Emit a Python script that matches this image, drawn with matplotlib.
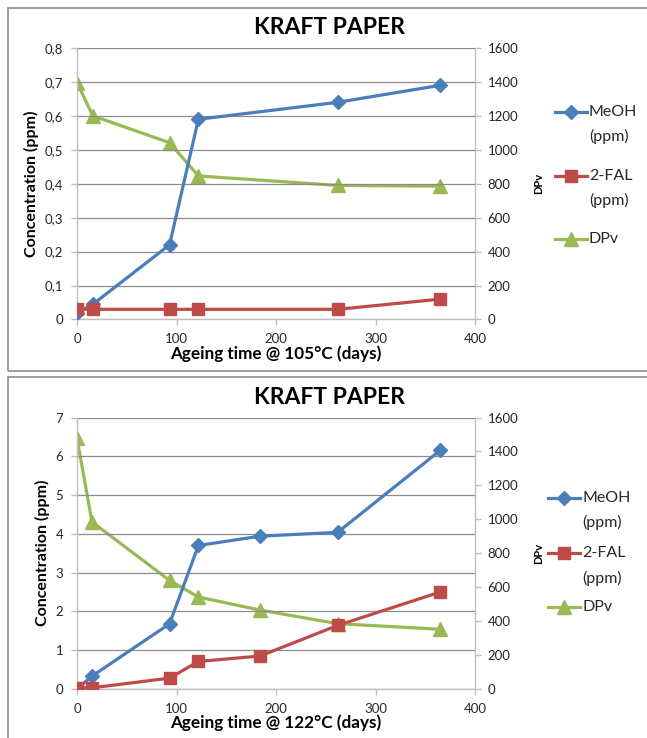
import matplotlib
matplotlib.use("Agg")
import matplotlib.pyplot as plt
from matplotlib.lines import Line2D
from matplotlib.patches import Rectangle
from matplotlib.ticker import FuncFormatter

plt.rcParams["font.family"] = ["Lato", "DejaVu Sans"]

# ageing at 105 °C
days_105 = [0, 16, 93, 122, 262, 365]
meoh_105 = [0.02, 0.045, 0.22, 0.59, 0.64, 0.69]
fal_105 = [0.03, 0.03, 0.03, 0.03, 0.03, 0.06]
dpv_105 = [1395, 1200, 1042, 846, 790, 786]

# ageing at 122 °C
days_122 = [0, 15, 93, 122, 184, 262, 365]
meoh_122 = [0.0, 0.33, 1.68, 3.70, 3.94, 4.04, 6.15]
fal_122 = [0.03, 0.03, 0.28, 0.71, 0.85, 1.64, 2.50]
dpv_122 = [1478, 985, 640, 542, 465, 385, 352]

series_names = ["MeOH", "2-FAL", "DPv"]
series_units = ["(ppm)", "(ppm)", ""]

panels = [
    ("105", days_105, meoh_105, fal_105, dpv_105, 0.8, 0.1),
    ("122", days_122, meoh_122, fal_122, dpv_122, 7, 1),
]

BLUE = "#4A7EBB"
RED = "#BE4B48"
GREEN = "#98B954"
GRID = "#8C8C8C"
SPINE = "#BFBFBF"
TXT = "#262626"

W, H = 647, 738
fig = plt.figure(figsize=(W / 100, H / 100), dpi=100)


def fx(px):
    return px / W


def fy(py):
    return 1 - py / H


# chart frames
fig.patches.append(Rectangle((fx(8), fy(371)), fx(700), 363 / H, transform=fig.transFigure,
                             fill=False, edgecolor="#8C8C8C", linewidth=1.2))
fig.patches.append(Rectangle((fx(8), fy(760)), fx(700), 383 / H, transform=fig.transFigure,
                             fill=False, edgecolor="#8C8C8C", linewidth=1.2))

tops = [48, 417.5]
title_y = [28, 397]
# legend layout (pixel positions): handle x-start, first-line y of each entry
leg_x = [555, 548]
leg_rows = [[111.5, 175.5, 239], [497.5, 553, 607]]

styles = [dict(color=BLUE, marker="D", markersize=7.5),
          dict(color=RED, marker="s", markersize=9),
          dict(color=GREEN, marker="^", markersize=9.5)]

for (temp, days, meoh, fal, dpv, ymax, ystep), top, ty, lx, rows in zip(
        panels, tops, title_y, leg_x, leg_rows):
    ax = fig.add_axes([fx(77), fy(top + 271.5), fx(398), 271.5 / H])
    ax2 = ax.twinx()

    ax.set_xlim(0, 400)
    ax.set_ylim(0, ymax)
    ax2.set_ylim(0, 1600)
    ax.set_xticks([0, 100, 200, 300, 400])
    n = int(round(ymax / ystep))
    ax.set_yticks([i * ystep for i in range(n + 1)])
    ax2.set_yticks(range(0, 1601, 200))
    if ystep < 1:
        ax.yaxis.set_major_formatter(FuncFormatter(
            lambda v, p: "0" if v == 0 else f"{v:.1f}".replace(".", ",")))

    ax.grid(axis="y", color=GRID, linewidth=0.9)
    ax.set_axisbelow(True)
    for a in (ax, ax2):
        a.spines["top"].set_visible(False)
        for s in ("left", "right", "bottom"):
            a.spines[s].set_color(SPINE)
            a.spines[s].set_linewidth(1.0)
        a.tick_params(colors=SPINE, labelcolor=TXT, labelsize=9.5, length=4, width=1)
    ax.spines["right"].set_visible(False)
    ax2.spines["left"].set_visible(False)
    ax2.spines["bottom"].set_visible(False)
    ax.tick_params(axis="y", pad=6)
    ax.tick_params(axis="x", pad=6)
    ax2.tick_params(axis="y", pad=5)

    ax.plot(days, meoh, linewidth=2.3, zorder=4, **styles[0])
    ax.plot(days, fal, linewidth=2.3, zorder=4, **styles[1])
    ax2.plot(days, dpv, linewidth=2.3, zorder=3, **styles[2])
    ax.set_zorder(ax2.get_zorder() + 1)
    ax.patch.set_visible(False)

    ax.set_ylabel("Concentration (ppm)", fontsize=11.5, fontweight="bold", color="black",
                  labelpad=4)
    ax.set_xlabel(f"Ageing time @ {temp}°C (days)", fontsize=12.3, fontweight="bold",
                  color="black", labelpad=0)
    ax2.set_ylabel("DPv", fontsize=8, fontweight="bold", color="black", labelpad=11)
    fig.text(fx(329), fy(ty), "KRAFT PAPER", fontsize=16.5, fontweight="bold",
             color="black", ha="center", va="center")

    # legend, Excel style: handle beside first line, unit on a second line
    for name, unit, st, ry in zip(series_names, series_units, styles, rows):
        fig.add_artist(Line2D([fx(lx), fx(lx + 32)], [fy(ry), fy(ry)], linewidth=2.3,
                              color=st["color"], transform=fig.transFigure))
        fig.add_artist(Line2D([fx(lx + 16)], [fy(ry)], linestyle="none",
                              transform=fig.transFigure, **st))
        fig.text(fx(lx + 34), fy(ry), name, fontsize=11.5, color=TXT, va="center")
        if unit:
            fig.text(fx(lx + 34), fy(ry + 25), unit, fontsize=11.5, color=TXT, va="center")

fig.savefig("out.png", dpi=100)
